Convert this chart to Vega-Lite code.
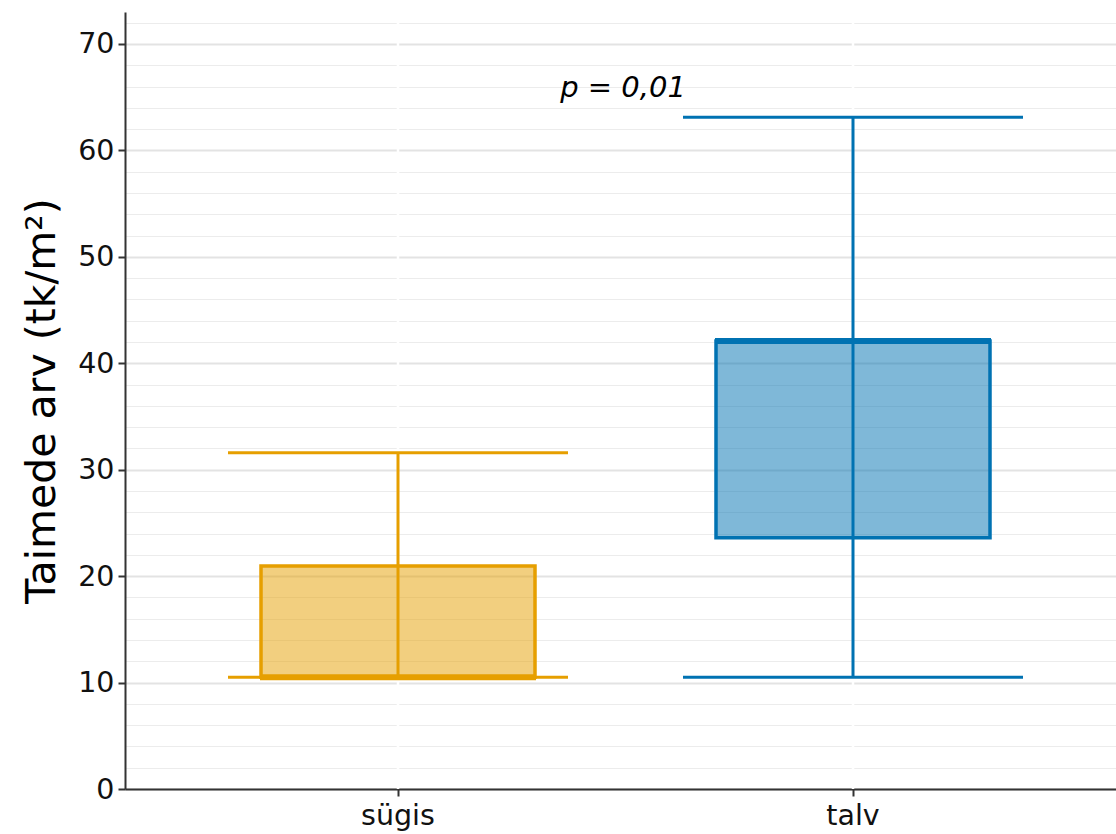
{
  "$schema": "https://vega.github.io/schema/vega-lite/v6.json",
  "width": 1001,
  "height": 777,
  "autosize": "none",
  "padding": {"left": 125, "top": 12, "right": 0, "bottom": 45},
  "background": "white",
  "config": {
    "view": {"stroke": null},
    "font": "DejaVu Sans"
  },
  "data": {
    "values": [
      {"hooaeg": "sügis", "min": 10.5, "q1": 10.5, "mediaan": 10.5, "q3": 20.95, "max": 31.6},
      {"hooaeg": "talv", "min": 10.5, "q1": 23.6, "mediaan": 42.1, "q3": 42.1, "max": 63.1}
    ]
  },
  "encoding": {
    "x": {
      "field": "hooaeg",
      "type": "nominal",
      "scale": {"type": "band", "paddingInner": 0, "paddingOuter": 0.1},
      "axis": {
        "title": null,
        "labelAngle": 0,
        "labelFontSize": 28.5,
        "labelColor": "#111111",
        "labelPadding": 5,
        "tickSize": 7,
        "tickWidth": 2,
        "tickColor": "#333333",
        "domainColor": "#333333",
        "domainWidth": 2,
        "grid": false
      }
    },
    "color": {
      "field": "hooaeg",
      "type": "nominal",
      "scale": {"domain": ["sügis", "talv"], "range": ["#E69F00", "#0072B2"]},
      "legend": null
    }
  },
  "layer": [
    {
      "mark": {"type": "rule", "color": "white", "strokeWidth": 2.5},
      "encoding": {"color": {"value": "white"}}
    },
    {
      "mark": {"type": "bar", "size": 274, "fillOpacity": 0.5, "strokeWidth": 3.5},
      "encoding": {
        "y": {
          "field": "q1",
          "type": "quantitative",
          "scale": {"domain": [0, 73], "nice": false, "zero": true},
          "axis": {
            "title": "Taimede arv (tk/m²)",
            "titleFontSize": 41,
            "titleFontWeight": "normal",
            "titleColor": "#000000",
            "titlePadding": 14,
            "values": [0,2,4,6,8,10,12,14,16,18,20,22,24,26,28,30,32,34,36,38,40,42,44,46,48,50,52,54,56,58,60,62,64,66,68,70,72],
            "tickCount": 100,
            "labelOverlap": false,
            "labelExpr": "datum.value % 10 === 0 ? datum.label : ''",
            "labelFontSize": 28.5,
            "labelColor": "#111111",
            "labelPadding": 4,
            "tickSize": 7,
            "tickWidth": 2,
            "tickColor": "#333333",
            "tickOpacity": {"condition": {"test": "datum.value % 10 === 0", "value": 1}, "value": 0},
            "domainColor": "#333333",
            "domainWidth": 2,
            "grid": true,
            "gridColor": {"condition": {"test": "datum.value % 10 === 0", "value": "#e3e3e3"}, "value": "#ececec"},
            "gridWidth": {"condition": {"test": "datum.value % 10 === 0", "value": 2.2}, "value": 1.2}
          }
        },
        "y2": {"field": "q3"},
        "fill": {"field": "hooaeg", "type": "nominal", "scale": {"domain": ["sügis", "talv"], "range": ["#E69F00", "#0072B2"]}, "legend": null},
        "stroke": {"field": "hooaeg", "type": "nominal", "scale": {"domain": ["sügis", "talv"], "range": ["#E69F00", "#0072B2"]}, "legend": null}
      }
    },
    {
      "mark": {"type": "rule", "strokeWidth": 3, "opacity": 1},
      "encoding": {
        "y": {"field": "min", "type": "quantitative"},
        "y2": {"field": "max"}
      }
    },
    {
      "mark": {"type": "tick", "size": 340, "thickness": 3, "orient": "horizontal", "opacity": 1},
      "encoding": {"y": {"field": "min", "type": "quantitative"}}
    },
    {
      "mark": {"type": "tick", "size": 340, "thickness": 3, "orient": "horizontal", "opacity": 1},
      "encoding": {"y": {"field": "max", "type": "quantitative"}}
    },
    {
      "mark": {"type": "tick", "size": 276, "thickness": 6, "orient": "horizontal", "opacity": 1},
      "encoding": {"y": {"field": "mediaan", "type": "quantitative"}}
    },
    {
      "data": {"values": [{"hooaeg": "talv", "y": 65.9, "silt": "p = 0,01"}]},
      "mark": {"type": "text", "fontSize": 29, "fontStyle": "italic", "color": "#000000", "dx": -230, "align": "center", "baseline": "middle"},
      "encoding": {
        "y": {"field": "y", "type": "quantitative"},
        "text": {"field": "silt"},
        "color": {"value": "#000000"}
      }
    }
  ]
}
